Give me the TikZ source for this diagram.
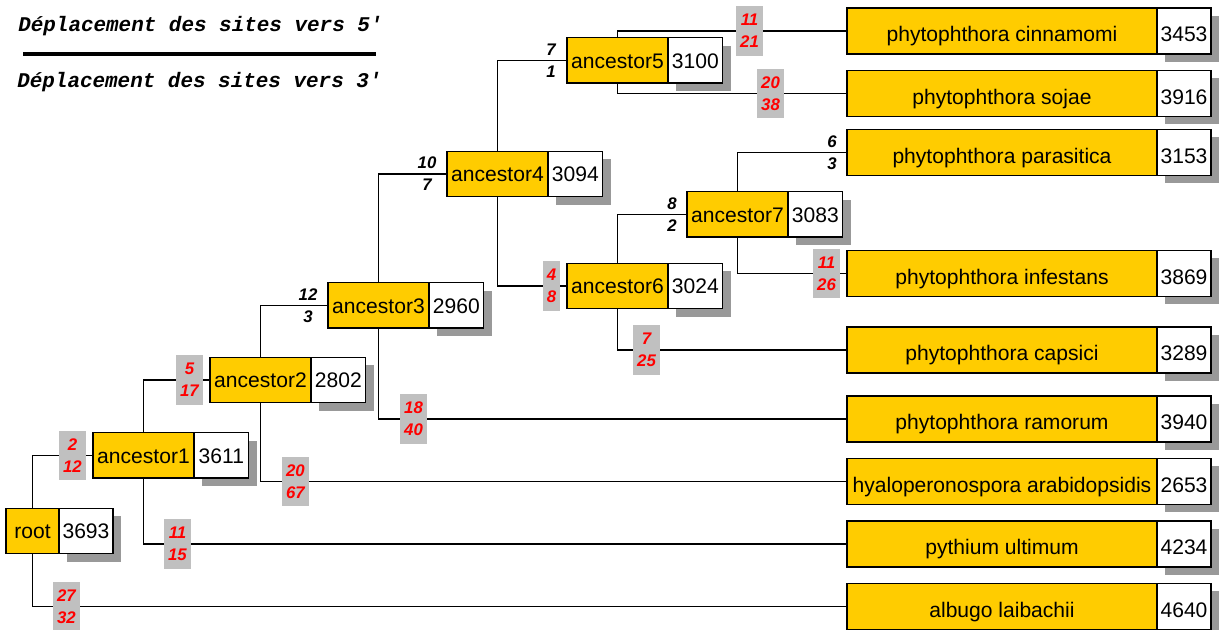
\documentclass[tikz,border=0pt]{standalone}
\usepackage{fontspec}
\setmainfont{Liberation Sans}
\newfontfamily\legendfont{Liberation Mono}
\usetikzlibrary{positioning,shadows}

\definecolor{boxyellow}{HTML}{FFCC00}
\definecolor{labgray}{HTML}{C0C0C0}
\definecolor{shadowgray}{HTML}{999999}

\begin{document}
\begin{tikzpicture}[x=0.75pt,y=-0.75pt,
    treenode/.style={draw,line width=1pt,fill=boxyellow,outer sep=0pt,inner sep=0pt,
      minimum width=75.75pt,minimum height=34pt,text height=11.7pt,text depth=0pt,
      font=\fontsize{15.8}{18}\selectfont},
    leafnode/.style={treenode,minimum width=232.5pt,minimum height=34.5pt,text height=16pt},
    count/.style={draw,line width=1pt,fill=white,outer sep=0pt,inner sep=0pt,
      minimum width=41pt,minimum height=34pt,text height=11.7pt,text depth=0pt,
      font=\fontsize{15.8}{18}\selectfont,
      drop shadow={shadow xshift=6pt,shadow yshift=-6pt,fill=shadowgray,opacity=1}},
    leafcount/.style={count,minimum width=40.5pt,minimum height=34.5pt,text height=16pt},
    branch/.style={line width=0.9pt},
    sitelab/.style={align=center,inner xsep=3pt,inner ysep=6pt,
      font=\fontsize{12.6}{16.5}\selectfont\bfseries\itshape},
    upshift/.style={sitelab,fill=labgray,text=red},
    downshift/.style={sitelab,text=black},
    legend/.style={anchor=base west,inner sep=0pt,
      font=\legendfont\fontsize{15.7}{18}\selectfont\bfseries\itshape}]
  \useasboundingbox (0,0) rectangle (1225,630);

  % legend
  \node[legend] (five) at (18,32) {Déplacement des sites vers 5'};
  \node[legend] (three) at (17,88) {Déplacement des sites vers 3'};
  \draw[line width=2.4pt] (23,54) -- (376,54);

  % internal nodes
  \node[treenode,minimum width=39.75pt] (root) at (32.5,531) {root};
  \node[count,right=0pt of root,minimum width=40.5pt] (rootn) {3693};
  \node[treenode] (anc1) at (143.5,455.5) {ancestor1};
  \node[count,right=0pt of anc1] (anc1n) {3611};
  \node[treenode] (anc2) at (260.5,380) {ancestor2};
  \node[count,right=0pt of anc2] (anc2n) {2802};
  \node[treenode] (anc3) at (378.5,305.5) {ancestor3};
  \node[count,right=0pt of anc3] (anc3n) {2960};
  \node[treenode] (anc4) at (497.5,174) {ancestor4};
  \node[count,right=0pt of anc4] (anc4n) {3094};
  \node[treenode] (anc5) at (617.5,60.5) {ancestor5};
  \node[count,right=0pt of anc5] (anc5n) {3100};
  \node[treenode] (anc6) at (617.5,286) {ancestor6};
  \node[count,right=0pt of anc6] (anc6n) {3024};
  \node[treenode] (anc7) at (737.5,214.5) {ancestor7};
  \node[count,right=0pt of anc7] (anc7n) {3083};

  % leaves
  \node[leafnode] (cinnamomi) at (1002,31) {phytophthora cinnamomi};
  \node[leafcount,right=0pt of cinnamomi] (cinnamomin) {3453};
  \node[leafnode] (sojae) at (1002,93.5) {phytophthora sojae};
  \node[leafcount,right=0pt of sojae] (sojaen) {3916};
  \node[leafnode] (parasitica) at (1002,152.5) {phytophthora parasitica};
  \node[leafcount,right=0pt of parasitica] (parasitican) {3153};
  \node[leafnode] (infestans) at (1002,273.5) {phytophthora infestans};
  \node[leafcount,right=0pt of infestans] (infestansn) {3869};
  \node[leafnode] (capsici) at (1002,350) {phytophthora capsici};
  \node[leafcount,right=0pt of capsici] (capsicin) {3289};
  \node[leafnode] (ramorum) at (1002,419) {phytophthora ramorum};
  \node[leafcount,right=0pt of ramorum] (ramorumn) {3940};
  \node[leafnode] (hyalo) at (1002,481.5) {hyaloperonospora arabidopsidis};
  \node[leafcount,right=0pt of hyalo] (hyalon) {2653};
  \node[leafnode] (pythium) at (1002,544) {pythium ultimum};
  \node[leafcount,right=0pt of pythium] (pythiumn) {4234};
  \node[leafnode] (albugo) at (1002,606.5) {albugo laibachii};
  \node[leafcount,right=0pt of albugo] (albugon) {4640};

  % branches
  \draw[branch] (root.north) |- (anc1.west);
  \draw[branch] (root.south) |- (albugo.west);
  \draw[branch] (anc1.north) |- (anc2.west);
  \draw[branch] (anc1.south) |- (pythium.west);
  \draw[branch] (anc2.north) |- (anc3.west);
  \draw[branch] (anc2.south) |- (hyalo.west);
  \draw[branch] (anc3.north) |- (anc4.west);
  \draw[branch] (anc3.south) |- (ramorum.west);
  \draw[branch] (anc4.north) |- (anc5.west);
  \draw[branch] (anc4.south) |- (anc6.west);
  \draw[branch] (anc5.north) |- (cinnamomi.west);
  \draw[branch] (anc5.south) |- (sojae.west);
  \draw[branch] (anc6.north) |- (anc7.west);
  \draw[branch] (anc6.south) |- (capsici.west);
  \draw[branch] (anc7.north) |- (parasitica.west);
  \draw[branch] (anc7.south) |- (infestans.west);

  % site shifts on the branches
  \node[upshift] (s1) at (72.5,0 |- anc1.west) {2\\12};
  \node[upshift] (s2) at (66.5,0 |- albugo.west) {27\\32};
  \node[upshift] (s3) at (189.5,0 |- anc2.west) {5\\17};
  \node[upshift] (s4) at (177.5,0 |- pythium.west) {11\\15};
  \node[downshift] (s5) at (308,0 |- anc3.west) {12\\3};
  \node[upshift] (s6) at (295.5,0 |- hyalo.west) {20\\67};
  \node[downshift] (s7) at (427,0 |- anc4.west) {10\\7};
  \node[upshift] (s8) at (413.5,0 |- ramorum.west) {18\\40};
  \node[downshift] (s9) at (551,0 |- anc5.west) {7\\1};
  \node[upshift] (s10) at (551.5,0 |- anc6.west) {4\\8};
  \node[upshift] (s11) at (749.5,0 |- cinnamomi.west) {11\\21};
  \node[upshift] (s12) at (770.5,0 |- sojae.west) {20\\38};
  \node[downshift] (s13) at (672,0 |- anc7.west) {8\\2};
  \node[upshift] (s14) at (646.5,0 |- capsici.west) {7\\25};
  \node[downshift] (s15) at (832,0 |- parasitica.west) {6\\3};
  \node[upshift] (s16) at (826.5,0 |- infestans.west) {11\\26};
\end{tikzpicture}
\end{document}
